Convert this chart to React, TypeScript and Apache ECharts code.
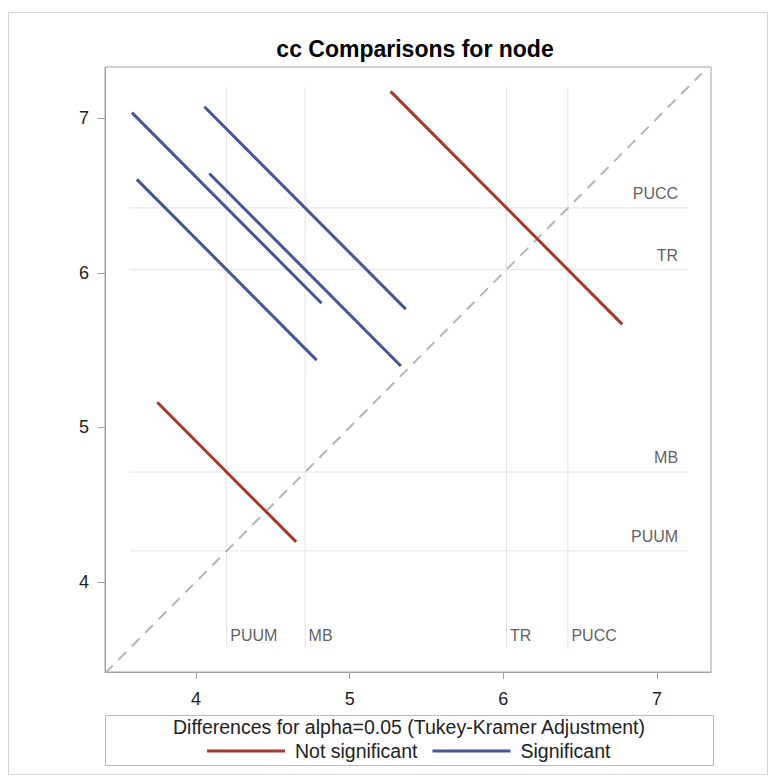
import React, { useEffect, useRef } from "react";
import * as echarts from "echarts";

// ---- data ----
const levels = ["PUUM", "MB", "TR", "PUCC"];
const means = [4.2, 4.71, 6.02, 6.42];
// pairs: x-level index, y-level index, half-extent of the diffogram segment, significance
const pairX = [0, 0, 1, 1, 0, 2];
const pairY = [3, 2, 3, 2, 1, 3];
const halfWidths = [0.617, 0.585, 0.655, 0.623, 0.452, 0.754];
const significant = [true, true, true, true, false, false];
const xTicks = [4, 5, 6, 7];
const yTicks = [4, 5, 6, 7];
const axisMinX = 3.408;
const axisMaxX = 7.351;
const axisMinY = 3.416;
const axisMaxY = 7.332;
const refStart = 3.57;
const refEnd = 7.2;
const diagEnd = 7.29;
const hLabelX = 7.14;
const vLabelY = 3.652;

const RED = "#A23A2E";
const BLUE = "#445694";
const FONT = "'Liberation Sans', Arial, sans-serif";

export default function App() {
  const ref = useRef<HTMLDivElement>(null);
  useEffect(() => {
    if (!ref.current) return;
    const chart = echarts.init(ref.current, null, { renderer: "svg" });
    const series: any[] = [];
    // reference lines
    means.forEach((m, i) => {
      series.push({
        type: "line",
        name: "ref-h-" + levels[i],
        data: [[refStart, m], [refEnd, m]],
        symbol: "none",
        silent: true,
        lineStyle: { color: "#e2e2e2", width: 1 },
        z: 1,
      });
      series.push({
        type: "line",
        name: "ref-v-" + levels[i],
        data: [[m, refStart], [m, refEnd]],
        symbol: "none",
        silent: true,
        lineStyle: { color: "#e2e2e2", width: 1 },
        z: 1,
      });
    });
    // diagonal
    series.push({
      type: "line",
      name: "diag",
      data: [[axisMinX, axisMinX], [diagEnd, diagEnd]],
      symbol: "none",
      silent: true,
      lineStyle: { color: "#b4b4b4", width: 2, type: [11, 8] },
      z: 2,
    });
    // segments
    pairX.forEach((xi, k) => {
      const cx = means[xi];
      const cy = means[pairY[k]];
      const h = halfWidths[k];
      const col = significant[k] ? BLUE : RED;
      series.push({
        type: "line",
        name: significant[k] ? "Significant" : "Not significant",
        data: [[cx - h, cy + h], [cx + h, cy - h]],
        symbol: "none",
        color: col,
        itemStyle: { color: col },
        lineStyle: { color: col, width: 3 },
        z: 5,
      });
    });
    // labels
    series.push({
      type: "scatter",
      name: "hlabels",
      symbolSize: 1,
      itemStyle: { color: "rgba(0,0,0,0)" },
      silent: true,
      data: means.map((m, i) => ({ value: [hLabelX, m], name: levels[i] })),
      label: {
        show: true,
        position: [0, 0],
        align: "right",
        verticalAlign: "middle",
        offset: [0, -14],
        formatter: (p: any) => p.name,
        color: "#333",
        fontSize: 16,
        fontFamily: FONT,
      },
      z: 6,
    });
    series.push({
      type: "scatter",
      name: "vlabels",
      symbolSize: 1,
      itemStyle: { color: "rgba(0,0,0,0)" },
      silent: true,
      data: means.map((m, i) => ({ value: [m, vLabelY], name: levels[i] })),
      label: {
        show: true,
        position: [0, 0],
        align: "left",
        verticalAlign: "middle",
        offset: [4, 0],
        formatter: (p: any) => p.name,
        color: "#333",
        fontSize: 16,
        fontFamily: FONT,
      },
      z: 6,
    });

    const axisCommon = {
      type: "value",
      splitLine: { show: false },
      axisLine: { show: true, lineStyle: { color: "#a0a0a0", width: 1 } },
      axisTick: { show: true, length: 7, lineStyle: { color: "#a0a0a0" } },
    };

    chart.setOption({
      animation: false,
      backgroundColor: "#ffffff",
      title: {
        text: "cc Comparisons for node",
        left: 410,
        top: 32,
        textAlign: "center",
        textStyle: { fontSize: 23, fontWeight: "bold", color: "#000", fontFamily: FONT },
      },
      grid: {
        left: 105,
        right: 58,
        top: 67,
        bottom: 104,
        show: true,
        borderColor: "#a0a0a0",
        borderWidth: 1,
        containLabel: false,
      },
      xAxis: {
        ...axisCommon,
        min: axisMinX,
        max: axisMaxX,
        axisTick: { ...axisCommon.axisTick, customValues: xTicks },
        axisLabel: {
          customValues: xTicks,
          fontSize: 18,
          color: "#222",
          fontFamily: FONT,
          margin: 18,
        },
      },
      yAxis: {
        ...axisCommon,
        min: axisMinY,
        max: axisMaxY,
        axisTick: { ...axisCommon.axisTick, customValues: yTicks },
        axisLabel: {
          customValues: yTicks,
          fontSize: 18,
          color: "#222",
          fontFamily: FONT,
          margin: 16,
        },
      },
      legend: {
        data: ["Not significant", "Significant"],
        left: 202,
        top: 736,
        icon: "rect",
        itemWidth: 78,
        itemHeight: 3,
        itemGap: 15,
        selectedMode: false,
        textStyle: { fontSize: 19.5, color: "#222", fontFamily: FONT, padding: [0, 0, 0, 5] },
      },
      graphic: [
        {
          type: "rect",
          shape: { x: 8.5, y: 12.5, width: 759, height: 762 },
          style: { fill: "none", stroke: "#d6d6d6", lineWidth: 1 },
          silent: true,
          z: -1,
        },
        {
          type: "rect",
          shape: { x: 105.5, y: 715.5, width: 608, height: 50 },
          style: { fill: "none", stroke: "#b8b8b8", lineWidth: 1 },
          silent: true,
        },
        {
          type: "text",
          x: 409,
          y: 727,
          style: {
            text: "Differences for alpha=0.05 (Tukey-Kramer Adjustment)",
            fontSize: 19.5,
            fontFamily: FONT,
            fill: "#222",
            align: "center",
            verticalAlign: "middle",
          },
          silent: true,
        },
      ],
      series,
    });
    return () => chart.dispose();
  }, []);
  return (
    <div
      ref={ref}
      style={{ position: "fixed", left: 0, top: 0, width: 769, height: 776 }}
    />
  );
}
